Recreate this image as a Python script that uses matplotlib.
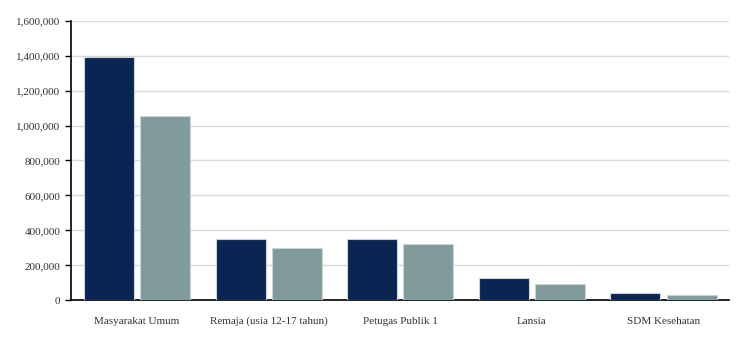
import matplotlib.pyplot as plt
import numpy as np
from matplotlib.ticker import FuncFormatter

# values
categories = ["Masyarakat Umum", "Remaja (usia 12-17 tahun)", "Petugas Publik 1",
              "Lansia", "SDM Kesehatan"]
series_a = [1393000, 352000, 349000, 126000, 40000]
series_b = [1056000, 297000, 320000, 91000, 29000]
y_ticks = [0, 200000, 400000, 600000, 800000, 1000000, 1200000, 1400000, 1600000]

plt.rcParams["font.family"] = ["Liberation Serif", "DejaVu Serif"]
text_color = "#333333"

fig = plt.figure(figsize=(7.5, 3.37), dpi=100)
ax = fig.add_axes([0.0951, 0.1089, 0.8773, 0.8297])

x = np.arange(len(categories))
width = 0.38
gap = 0.048
ax.bar(x - (width + gap) / 2, series_a, width, color="#0b2553",
       edgecolor="#c9d2dd", linewidth=0.8, zorder=3)
ax.bar(x + (width + gap) / 2, series_b, width, color="#819a9a",
       edgecolor="#c9d2dd", linewidth=0.8, zorder=3)

ax.set_xlim(-0.5, len(categories) - 0.5)
ax.set_ylim(0, 1600000)
ax.set_yticks(y_ticks)
ax.yaxis.set_major_formatter(FuncFormatter(lambda v, _: f"{int(v):,}"))
ax.set_xticks(x)
ax.set_xticklabels(categories)
# keep the category names on one baseline
for lbl in ax.get_xticklabels():
    lbl.set_verticalalignment("baseline")

ax.grid(axis="y", color="#d9d9d9", linewidth=1, zorder=0)
for side in ["top", "right"]:
    ax.spines[side].set_visible(False)
ax.spines["left"].set_linewidth(1.2)
ax.spines["bottom"].set_linewidth(1.2)

ax.tick_params(axis="y", length=4.3, width=1, pad=3.5, labelsize=8, labelcolor=text_color)
ax.tick_params(axis="x", length=0, pad=17, labelsize=8, labelcolor=text_color)

fig.savefig("out.png", dpi=100)
